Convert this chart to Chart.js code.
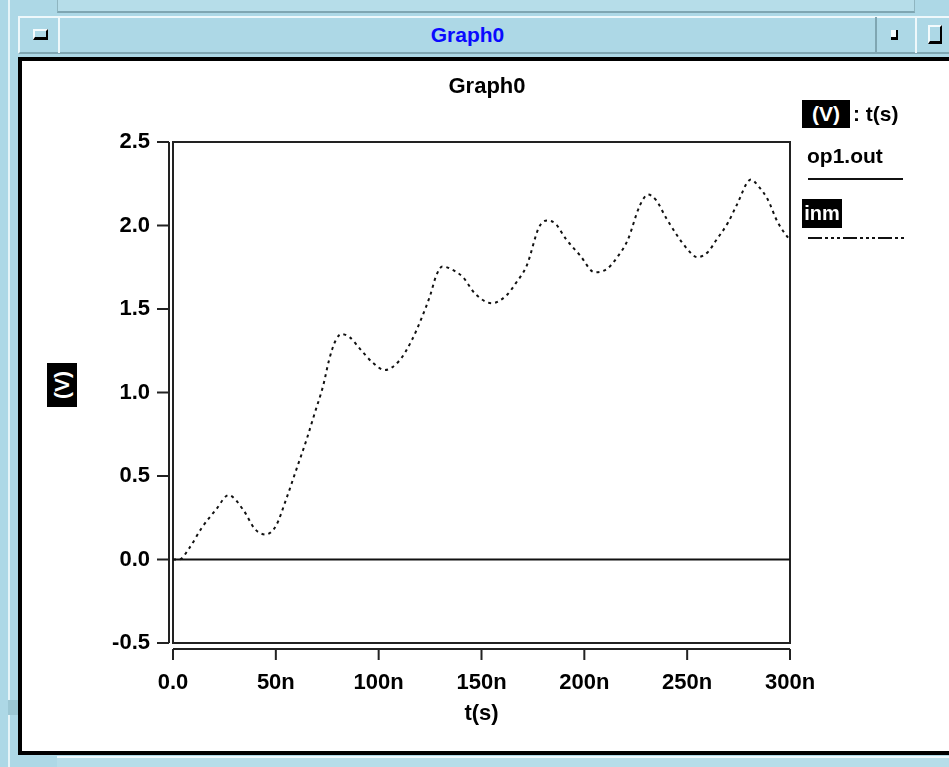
<!DOCTYPE html>
<html>
<head>
<meta charset="utf-8">
<title>Graph0</title>
<script src="https://cdn.jsdelivr.net/npm/chart.js@4.4.0/dist/chart.umd.min.js"></script>
<style>
  body { margin: 0; width: 949px; height: 767px; overflow: hidden; position: relative;
         background: #add8e6; font-family: "Liberation Sans", Arial, sans-serif; }
  .abs { position: absolute; box-sizing: border-box; }
  .btn { background: #add8e6; border-top: 2px solid #f4fbfd; border-left: 2px solid #f4fbfd;
         border-right: 2px solid #000; border-bottom: 3px solid #000; }
  .lbl { font-weight: bold; font-size: 21px; line-height: 24px; white-space: nowrap; color: #000; }
  .inv { background: #000; color: #fff; text-align: center; }
</style>
</head>
<body>
<!-- window chrome -->
<div class="abs" style="left:8px;top:0;width:2px;height:767px;background:#e6f4f8"></div>
<div class="abs" style="left:57px;top:0;width:858px;height:13px;background:#b6dde9;border-bottom:2px solid #7fa6b2;border-left:1px solid #8fb5c0;border-right:1px solid #8fb5c0"></div>
<div class="abs" style="left:18px;top:16px;width:940px;height:38px;background:#add8e6;border-top:2px solid #eef8fb;border-left:2px solid #eef8fb;border-bottom:2px solid #7fa6b2"></div>
<div class="abs" style="left:58px;top:17px;width:819px;height:36px;border-left:2px solid #eef8fb;border-right:2px solid #7fa6b2"></div>
<div class="abs" style="left:915px;top:17px;width:2px;height:36px;background:#eef8fb"></div>
<div class="abs btn" style="left:33px;top:29px;width:15px;height:11px"></div>
<div class="abs" style="left:891px;top:30px;width:7px;height:10px;background:#000"></div>
<div class="abs" style="left:891px;top:30px;width:5px;height:7px;background:#f4fbfd"></div>
<div class="abs btn" style="left:928px;top:25px;width:14px;height:19px"></div>
<div class="abs" style="left:60px;top:18px;width:815px;height:34px;text-align:center;font-weight:bold;font-size:21px;line-height:34px;color:#0a0aff">Graph0</div>
<div class="abs" style="left:57px;top:756px;width:892px;height:11px;background:#b6dde9;border-top:2px solid #eef8fb"></div>
<div class="abs" style="left:8px;top:700px;width:11px;height:15px;background:#9cc7d4"></div>

<!-- white panel -->
<div class="abs" style="left:18px;top:57px;width:960px;height:698px;background:#fff;border:4px solid #000"></div>

<canvas id="graf" class="abs" width="949" height="767" style="left:0;top:0"></canvas>

<!-- titles and legend -->
<div class="abs lbl" style="left:387px;top:74px;width:200px;text-align:center;font-size:22px">Graph0</div>
<div class="abs lbl inv" style="left:47px;top:363px;width:30px;height:44px"><div style="position:absolute;left:-7px;top:10px;width:44px;height:24px;transform:rotate(-90deg)">(V)</div></div>
<div class="abs lbl inv" style="left:802px;top:100px;width:48px;height:28px;line-height:28px">(V)</div>
<div class="abs lbl" style="left:853px;top:101px;line-height:26px">: t(s)</div>
<div class="abs lbl" style="left:807px;top:144px">op1.out</div>
<div class="abs" style="left:808px;top:178px;width:95px;height:2px;background:#111"></div>
<div class="abs lbl inv" style="left:802px;top:199px;width:40px;height:29px;line-height:29px;font-size:20px">inm</div>
<svg class="abs" style="left:808px;top:236px" width="96" height="4"><line x1="0" y1="2" x2="96" y2="2" stroke="#111" stroke-width="2" stroke-dasharray="14 3 3 3 3 3 3 3"/></svg>

<script>
// time axis in ns
const tickTimes = [0, 50, 100, 150, 200, 250, 300];
const voltTicks = [-0.5, 0.0, 0.5, 1.0, 1.5, 2.0, 2.5];

// op1.out (flat at 0 V)
const opTime = [0, 300];
const opVolts = [0, 0];

// inm
const inmTime = [0, 3, 8, 14, 21, 27, 34, 40, 45, 50, 55, 60, 65, 69, 73, 76, 79, 82, 86, 91,
  97, 103, 110, 116, 121, 125, 128, 131, 135, 141, 147, 155, 162, 167, 172, 178, 182, 186, 191, 198,
  205, 211, 216, 221, 227, 231, 235, 240, 250, 255, 260, 264, 270, 274, 281, 285, 289, 294, 300];
const inmVolts = [0.0, 0.0, 0.07, 0.19, 0.30, 0.385, 0.30, 0.18, 0.15, 0.20, 0.36, 0.54, 0.72, 0.88, 1.04, 1.20, 1.31, 1.35, 1.33, 1.26,
  1.18, 1.135, 1.19, 1.31, 1.45, 1.58, 1.70, 1.755, 1.74, 1.69, 1.59, 1.535, 1.58, 1.66, 1.76, 1.99, 2.03, 2.01, 1.92, 1.82,
  1.72, 1.74, 1.81, 1.91, 2.12, 2.185, 2.15, 2.04, 1.86, 1.81, 1.84, 1.91, 2.02, 2.12, 2.275, 2.23, 2.16, 2.02, 1.91];

const fuente = { family: "'Liberation Sans', Arial, sans-serif", size: 22, weight: 'bold' };

// box round the plot, plus the offset axis lines with their ticks
const cajaEjes = {
  id: 'cajaEjes',
  beforeDatasetsDraw(chart) {
    const { ctx, chartArea: a, scales: { x, y } } = chart;
    ctx.save();
    ctx.strokeStyle = '#222';
    ctx.lineWidth = 2;
    ctx.strokeRect(a.left, a.top, a.right - a.left, a.bottom - a.top);
    ctx.beginPath();
    const yx = a.left - 4;
    ctx.moveTo(yx, y.getPixelForValue(voltTicks[voltTicks.length - 1]));
    ctx.lineTo(yx, y.getPixelForValue(voltTicks[0]));
    y.ticks.forEach((t) => {
      const p = y.getPixelForValue(t.value);
      ctx.moveTo(yx - 12, p);
      ctx.lineTo(yx, p);
    });
    const xy = a.bottom + 6;
    ctx.moveTo(x.getPixelForValue(tickTimes[0]), xy);
    ctx.lineTo(x.getPixelForValue(tickTimes[tickTimes.length - 1]), xy);
    x.ticks.forEach((t) => {
      const p = x.getPixelForValue(t.value);
      ctx.moveTo(p, xy);
      ctx.lineTo(p, xy + 11);
    });
    ctx.stroke();
    ctx.restore();
  },
};

new Chart(document.getElementById('graf'), {
  type: 'line',
  data: {
    datasets: [
      {
        label: 'op1.out',
        data: opTime.map((t, i) => ({ x: t, y: opVolts[i] })),
        borderColor: '#111',
        borderWidth: 2,
        pointRadius: 0,
      },
      {
        label: 'inm',
        data: inmTime.map((t, i) => ({ x: t, y: inmVolts[i] })),
        borderColor: '#111',
        borderWidth: 2,
        borderDash: [3, 4],
        pointRadius: 0,
        cubicInterpolationMode: 'monotone',
      },
    ],
  },
  options: {
    responsive: false,
    animation: false,
    layout: { padding: { left: 0, top: 142, right: 159, bottom: 0 } },
    plugins: { legend: { display: false }, tooltip: { enabled: false } },
    scales: {
      x: {
        type: 'linear',
        min: tickTimes[0],
        max: tickTimes[tickTimes.length - 1],
        grid: { display: false, drawTicks: false },
        border: { display: false },
        afterBuildTicks: (s) => { s.ticks = tickTimes.map((v) => ({ value: v })); },
        afterFit: (s) => { s.height = 124; },
        ticks: {
          color: '#000',
          font: fuente,
          padding: 27,
          maxRotation: 0,
          callback: (v) => (v === 0 ? '0.0' : v + 'n'),
        },
        title: { display: true, text: 't(s)', color: '#000', font: fuente, padding: { top: 0, bottom: 40 } },
      },
      y: {
        min: voltTicks[0],
        max: voltTicks[voltTicks.length - 1],
        grid: { display: false, drawTicks: false },
        border: { display: false },
        afterBuildTicks: (s) => { s.ticks = voltTicks.map((v) => ({ value: v })); },
        afterFit: (s) => { s.width = 173; },
        ticks: {
          color: '#000',
          font: fuente,
          padding: 23,
          callback: (v) => v.toFixed(1),
        },
      },
    },
  },
  plugins: [cajaEjes],
});
</script>
</body>
</html>
